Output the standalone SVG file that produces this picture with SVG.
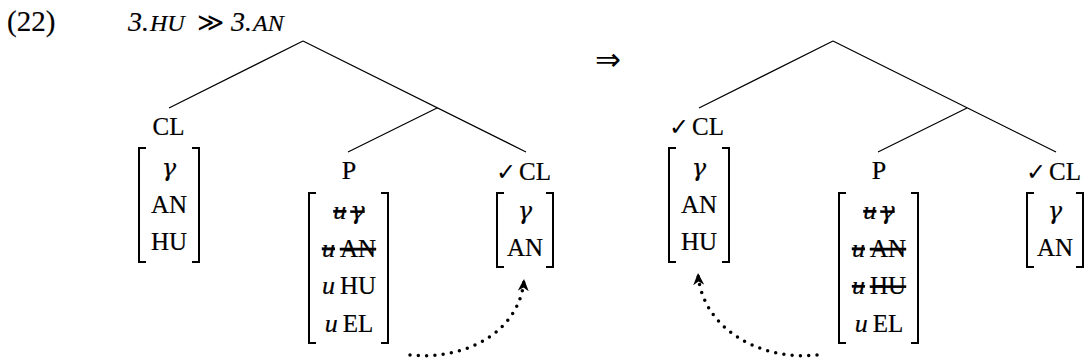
<svg xmlns="http://www.w3.org/2000/svg" width="1086" height="364" viewBox="0 0 1086 364">
<style>
.f{font-family:"Liberation Serif","Times New Roman",serif;fill:#000;stroke:#000;stroke-width:0.2}
.t{font-family:"Liberation Serif","Times New Roman",serif;font-size:25px;fill:#000;stroke:#000;stroke-width:0.2}
.lp{font-size:26px}
.i{font-style:italic}
.g{font-family:"DejaVu Serif","Liberation Serif",serif;font-style:italic;font-size:24px}
.u{font-style:italic;font-size:26px}
.s{text-decoration:line-through}
.ck{font-family:"DejaVu Sans",sans-serif;font-size:24px;stroke-width:0}
.br{fill:none;stroke:#000;stroke-width:2}
.edge{stroke:#000;stroke-width:1.2;fill:none}
.dot{stroke:#000;stroke-width:3.5;stroke-dasharray:0 8.3;stroke-linecap:round;fill:none}
</style>
<defs>
<marker id="ah" markerUnits="userSpaceOnUse" markerWidth="13" markerHeight="11" viewBox="0 0 13 11" refX="12" refY="5.5" orient="auto">
<path d="M0,0 L12,5.5 L0,11 L3.5,5.5 z" fill="#000"/>
</marker>
</defs>
<rect width="1086" height="364" fill="#fff"/>

<g id="example-label">
<text class="f" x="7" y="31" font-size="29">(22)</text>
<text class="f i" y="31" font-size="28"><tspan x="128">3.</tspan><tspan x="150" font-size="24">HU</tspan><tspan x="197" font-style="normal" font-family="DejaVu Sans, sans-serif" font-size="26" stroke-width="0">≫</tspan><tspan x="231">3.</tspan><tspan x="253" font-size="24">AN</tspan></text>
</g>

<g id="transition">
<text x="595" y="70" font-family="DejaVu Sans, sans-serif" font-size="31">⇒</text>
</g>

<g id="connectors">
<path class="edge" d="M303,41 L169,108 M303,41 L526,152 M437,108 L348,152"/>
<path class="edge" d="M833,41 L699,108 M833,41 L1056,152 M967,108 L878,152"/>
<path class="dot" d="M410,355 C470,361 521,328 524,279" marker-end="url(#ah)"/>
<path class="dot" d="M817,355 C757,361 701,326 698,273" marker-end="url(#ah)"/>
</g>

<g id="left-cl">
<text class="t" x="168.5" y="135" text-anchor="middle">CL</text>
<path class="br" d="M146,148 H139 V262 H146 M192,148 H199 V262 H192"/>
<text class="t g" x="169" y="176" text-anchor="middle">γ</text>
<text class="t" x="169" y="213" text-anchor="middle">AN</text>
<text class="t" x="169" y="250" text-anchor="middle">HU</text>
</g>

<g id="left-p">
<text class="t lp" x="349" y="179" text-anchor="middle">P</text>
<path class="br" d="M316,193 H309 V343 H316 M381,193 H388 V343 H381"/>
<text class="t s" x="349" y="219" text-anchor="middle"><tspan class="u">u</tspan><tspan class="g" dx="4">γ</tspan></text>
<text class="t s" x="349" y="256.5" text-anchor="middle"><tspan class="u">u</tspan><tspan dx="5">AN</tspan></text>
<text class="t" x="349" y="294" text-anchor="middle"><tspan class="u">u</tspan><tspan dx="5">HU</tspan></text>
<text class="t" x="349" y="331.5" text-anchor="middle"><tspan class="u">u</tspan><tspan dx="5">EL</tspan></text>
</g>

<g id="left-cl-checked">
<text class="t" y="180"><tspan class="ck" x="496">✓</tspan><tspan x="519">CL</tspan></text>
<path class="br" d="M504,193 H497 V267 H504 M546,193 H553 V267 H546"/>
<text class="t g" x="525" y="219" text-anchor="middle">γ</text>
<text class="t" x="525" y="256" text-anchor="middle">AN</text>
</g>

<g id="right-cl-checked">
<text class="t" y="135"><tspan class="ck" x="669">✓</tspan><tspan x="692">CL</tspan></text>
<path class="br" d="M676,148 H669 V262 H676 M722,148 H729 V262 H722"/>
<text class="t g" x="699" y="176" text-anchor="middle">γ</text>
<text class="t" x="699" y="213" text-anchor="middle">AN</text>
<text class="t" x="699" y="250" text-anchor="middle">HU</text>
</g>

<g id="right-p">
<text class="t lp" x="879" y="179" text-anchor="middle">P</text>
<path class="br" d="M846,193 H839 V343 H846 M911,193 H918 V343 H911"/>
<text class="t s" x="879" y="219" text-anchor="middle"><tspan class="u">u</tspan><tspan class="g" dx="4">γ</tspan></text>
<text class="t s" x="879" y="256.5" text-anchor="middle"><tspan class="u">u</tspan><tspan dx="5">AN</tspan></text>
<text class="t s" x="879" y="294" text-anchor="middle"><tspan class="u">u</tspan><tspan dx="5">HU</tspan></text>
<text class="t" x="879" y="331.5" text-anchor="middle"><tspan class="u">u</tspan><tspan dx="5">EL</tspan></text>
</g>

<g id="right-cl">
<text class="t" y="180"><tspan class="ck" x="1026">✓</tspan><tspan x="1049">CL</tspan></text>
<path class="br" d="M1034,193 H1027 V267 H1034 M1076,193 H1083 V267 H1076"/>
<text class="t g" x="1055" y="219" text-anchor="middle">γ</text>
<text class="t" x="1055" y="256" text-anchor="middle">AN</text>
</g>
</svg>
